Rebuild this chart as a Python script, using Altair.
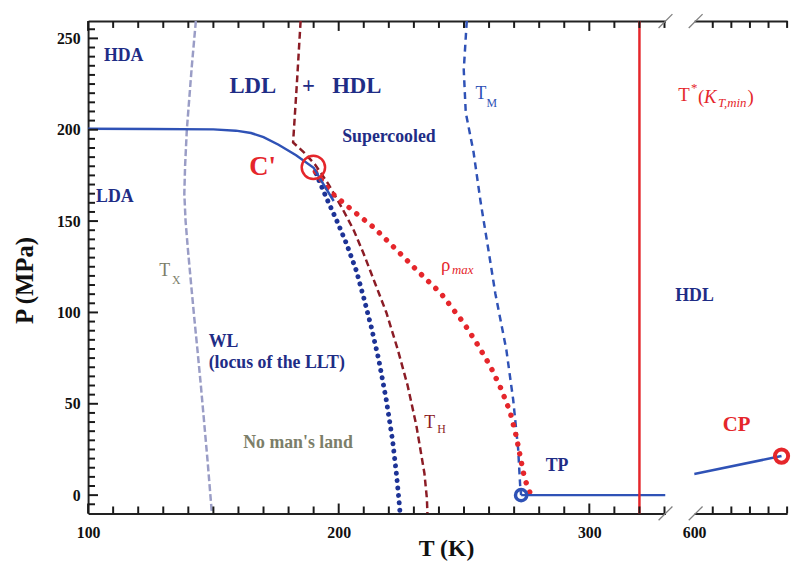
import altair as alt
import pandas as pd

# ---------------- data ----------------
# T_X : crystallisation of amorphous ice (grey-blue dashed)
TX_T = [143.0, 141.4, 139.4, 138.7, 138.4, 138.9, 139.8, 141.0, 142.3, 143.6, 145.0, 146.3, 147.6, 148.8, 149.4]
TX_P = [259.5, 235, 200, 180, 165, 150, 135, 117, 98, 80, 60, 40, 20, 0, -10]

# HDA/LDA -> LDL/HDL coexistence line (solid blue)
LLT_T = [100, 125, 150, 159, 165, 170, 176, 183, 190, 194, 198]
LLT_P = [200.5, 200.4, 200.2, 199.5, 198.2, 196.0, 191.8, 186.0, 179.2, 170.0, 161.0]

# Widom line, locus of the LLT (blue dots)
WL_T = [191, 195, 199, 203, 207, 210, 213, 216, 219, 221.5, 223, 224, 224.5]
WL_P = [176, 163, 151, 138, 123, 108, 92, 74, 52, 30, 12, -2, -10]

# T_H homogeneous nucleation (dark red dashed)
TH_T = [184.8, 183.3, 181.8, 186.0, 190.7, 196.0, 201.4, 206.0, 210.0, 214.5, 219.0, 223.5, 227.5, 231.0, 234.2, 235.2, 235.4]
TH_P = [259.5, 225, 193, 187.8, 180.7, 170, 157, 145, 132, 116, 100, 80, 60, 38, 12, -2, -10]

# density maximum rho_max (red dots)
RHO_T = [190.7, 196.6, 204.5, 214.4, 223.5, 231.4, 240.8, 249.9, 255.0, 260.6, 264.9, 268.4, 270.8, 272.6, 274.2, 276.7]
RHO_P = [177, 166, 157, 146, 133.7, 122.8, 110.4, 94.2, 83.3, 70.3, 57.9, 45.5, 32.5, 20, 9, 0]

# T_M melting line (blue dashed)
TM_T = [251.1, 249.9, 250.7, 253.8, 256.6, 259.8, 262.5, 266.9, 269.6, 271.6, 272.4, 272.8]
TM_P = [259.5, 232.7, 209.4, 187.8, 160.7, 133.7, 110.4, 79.5, 52.5, 25.4, 5.4, 0]

# liquid-vapour line from the triple point, and near the critical point
TPL_T = [272.8, 330.4]
TPL_P = [0, 0]
CPL_T = [600, 647]
CPL_P = [11.6, 21.4]

T_STAR = [320]                 # T*(K_T,min)
CPRIME_T, CPRIME_P = [189.9], [179.4]
TP_T, TP_P = [272.8], [0]
CP_T, CP_P = [647], [21.4]

# axis ranges / ticks
X_LEFT = [100, 330.4]
X_RIGHT = [600, 650]
Y_DOM = [-10, 259.5]
X_LABELS = [100, 200, 300]
X_MINOR = [t for t in range(110, 331, 10) if t % 100 != 0]
XR_LABELS = [600]
XR_MINOR = [610, 620, 630, 640, 650]
Y_LABELS = [0, 50, 100, 150, 200, 250]
Y_MINOR = [p for p in range(-5, 260, 5) if p % 50 != 0]

# text labels
NAVY_TXT = ["HDA", "LDA", "Supercooled", "WL", "(locus of the LLT)", "TP", "HDL"]
NAVY_T = [106.3, 103.2, 201.4, 148.1, 148.1, 282.6, 334.3]
NAVY_P = [240.5, 163.1, 196.2, 83.6, 72.3, 16.0, 109.0]
BIG_TXT = ["LDL", "+", "HDL"]
BIG_T = [156.4, 185.4, 197.4]
BIG_P = [223.8, 223.8, 223.8]

# ---------------- styling ----------------
FONT = "Liberation Serif"
NAVY = "#1f2d86"
BLUE = "#2f52b6"
DOTBLUE = "#1d3396"
RED = "#e5262b"
DARKRED = "#8b1c25"
GREYBLUE = "#9a9dc6"
OLIVE = "#7c7e69"
W_L, W_R, H = 584, 94, 498

xsL = alt.Scale(domain=X_LEFT, nice=False, zero=False)
xsR = alt.Scale(domain=X_RIGHT, nice=False, zero=False)
ys = alt.Scale(domain=Y_DOM, nice=False, zero=False)

kxL = (X_LEFT[1] - X_LEFT[0]) / W_L     # data units per pixel
kxR = (X_RIGHT[1] - X_RIGHT[0]) / W_R
ky = (Y_DOM[1] - Y_DOM[0]) / H


def frame(T, P):
    return pd.DataFrame({"T": T, "P": P, "i": list(range(len(T)))})


def xenc(scale, axis=None):
    return alt.X("T:Q", scale=scale, axis=axis)


def yenc(axis=None):
    return alt.Y("P:Q", scale=ys, axis=axis)


def curve(T, P, color, width, dash=None, cap="butt", xaxis=None, yaxis=None, scale=xsL):
    kw = dict(color=color, strokeWidth=width, strokeCap=cap, clip=True)
    if dash is not None:
        kw["strokeDash"] = dash
    return alt.Chart(frame(T, P)).mark_line(**kw).encode(
        x=xenc(scale, xaxis), y=yenc(yaxis), order="i:Q")


def label(texts, Ts, Ps, color, size, weight="bold", style="normal", scale=xsL):
    df = pd.DataFrame({"T": Ts, "P": Ps, "txt": texts})
    return alt.Chart(df).mark_text(
        align="left", baseline="middle", font=FONT, fontSize=size,
        fontWeight=weight, fontStyle=style, color=color
    ).encode(x=xenc(scale), y=yenc(), text="txt:N")


def ring(T, P, color, size, width, scale=xsL, xaxis=None):
    return alt.Chart(frame(T, P)).mark_point(
        shape="circle", filled=False, color=color, size=size, strokeWidth=width, opacity=1
    ).encode(x=xenc(scale, xaxis), y=yenc())


# ---- frame decorations: inward ticks + axis-break slashes, as segments ----
def segs(rows):
    return pd.DataFrame(rows, columns=["T", "T2", "P", "P2", "kind"])


def xtick_rows(values, length):
    rows = []
    for v in values:
        rows.append([v, v, Y_DOM[0], Y_DOM[0] + length * ky, "tick"])
        rows.append([v, v, Y_DOM[1], Y_DOM[1] - length * ky, "tick"])
    return rows


def ytick_rows(values, length):
    return [[X_LEFT[0], X_LEFT[0] + length * kxL, v, v, "tick"] for v in values]


def slash_rows(t_center, kx):
    h = 7
    return [[t_center - h * kx, t_center + h * kx, p - h * ky, p + h * ky, "slash"] for p in Y_DOM]


decoL = segs(xtick_rows(X_MINOR, 7) + xtick_rows(X_LABELS, 10) + ytick_rows(Y_MINOR, 7)
             + ytick_rows(Y_LABELS, 10) + slash_rows(X_LEFT[1], kxL))
decoR = segs(xtick_rows(XR_MINOR, 7) + slash_rows(X_RIGHT[0] + 1.5 * kxR, kxR))


def deco(df, scale):
    return alt.Chart(df).mark_rule().encode(
        x=xenc(scale), x2="T2:Q", y=yenc(), y2="P2:Q",
        color=alt.Color("kind:N", scale=alt.Scale(domain=["tick", "slash"], range=["#1a1a1a", "#808080"]),
                        legend=None),
        strokeWidth=alt.StrokeWidth("kind:N", scale=alt.Scale(domain=["tick", "slash"], range=[2.0, 1.3]),
                                    legend=None))


# ---------------- axes ----------------
TITLE = dict(titleFont=FONT, titleFontWeight="bold", titleColor="#111",
             titleBaseline="middle", titleAlign="center")
xb_axis = alt.Axis(orient="bottom", values=X_LABELS, ticks=False, domain=True, labelPadding=11, grid=False,
                   title="T (K)", titleX=362, titleY=36, titleFontSize=24, **TITLE)
xt_axis = alt.Axis(orient="top", ticks=False, labels=False, domain=True, grid=False, title=None)
y_axis = alt.Axis(orient="left", values=Y_LABELS, ticks=False, domain=True, labelPadding=8, grid=False,
                  title="P (MPa)", titleX=-64, titleY=262, titleAngle=270, titleFontSize=25, **TITLE)
xbR_axis = alt.Axis(orient="bottom", values=XR_LABELS, ticks=False, domain=True, labelPadding=11,
                    grid=False, title=None)
xtR_axis = alt.Axis(orient="top", ticks=False, labels=False, domain=True, grid=False, title=None)

# ---------------- left panel ----------------
left_layers = [
    curve(TX_T, TX_P, GREYBLUE, 2.5, dash=[7, 3], xaxis=xb_axis, yaxis=y_axis),
    curve(TH_T, TH_P, DARKRED, 2.5, dash=[7, 4], xaxis=xt_axis),
    curve(TM_T, TM_P, BLUE, 2.5, dash=[7, 5]),
    curve(WL_T, WL_P, DOTBLUE, 5, dash=[0.01, 7.5], cap="round"),
    curve(RHO_T, RHO_P, RED, 5.5, dash=[0.01, 10], cap="round"),
    curve(LLT_T, LLT_P, BLUE, 2.5),
    curve(TPL_T, TPL_P, BLUE, 2.5),
    alt.Chart(pd.DataFrame({"T": T_STAR})).mark_rule(color=RED, strokeWidth=2.5).encode(x=xenc(xsL)),
    ring(CPRIME_T, CPRIME_P, RED, 560, 2.5),
    ring(TP_T, TP_P, BLUE, 130, 3.5),
    deco(decoL, xsL),
    label(NAVY_TXT, NAVY_T, NAVY_P, NAVY, 18),
    label(BIG_TXT, BIG_T, BIG_P, NAVY, 23),
    label(["C'"], [164.3], [179.4], RED, 27),
    label(["No man's land"], [161.9], [28.4], OLIVE, 18),
    label(["T"], [128.4], [122.6], OLIVE, 18, weight="normal"),
    label(["X"], [133.5], [117.7], OLIVE, 12, weight="normal"),
    label(["T"], [234.1], [39.2], DARKRED, 18, weight="normal"),
    label(["H"], [239.3], [36.0], DARKRED, 12, weight="normal"),
    label(["T"], [254.6], [219.4], BLUE, 18, weight="normal"),
    label(["M"], [259.0], [214.5], BLUE, 12, weight="normal"),
    label(["T", "(", ")", "ρ"], [335.5, 343.4, 363.1, 240.8], [218.9, 217.9, 217.9, 125.8], RED, 19, weight="normal"),
    label(["*"], [340.6], [222.7], RED, 13, weight="normal"),
    label(["K"], [345.8], [217.9], RED, 19, weight="normal", style="italic"),
    label(["T,min", "max"], [351.3, 245.2], [214.5, 123.1], RED, 13, weight="normal", style="italic"),
]
left = alt.layer(*left_layers).resolve_axis(x="independent", y="independent").properties(width=W_L, height=H)

# ---------------- right panel ----------------
right_layers = [
    curve(CPL_T, CPL_P, BLUE, 2.5, scale=xsR, xaxis=xbR_axis),
    ring(CP_T, CP_P, RED, 180, 4, scale=xsR, xaxis=xtR_axis),
    label(["CP"], [615.4], [38.1], RED, 21, scale=xsR),
    deco(decoR, xsR),
]
right = alt.layer(*right_layers).resolve_axis(x="independent", y="independent").properties(width=W_R, height=H)

chart = alt.hconcat(left, right, spacing=29, bounds="flush").properties(
    padding={"left": 5, "top": 2, "right": 0, "bottom": 0}
).configure_view(stroke=None).configure_axis(
    labelFont=FONT, labelFontWeight="bold", labelFontSize=16, labelColor="#111",
    labelFlush=False, domainColor="#222", domainWidth=2
)

chart.save("out.html", embed_options={"renderer": "svg", "actions": False})
